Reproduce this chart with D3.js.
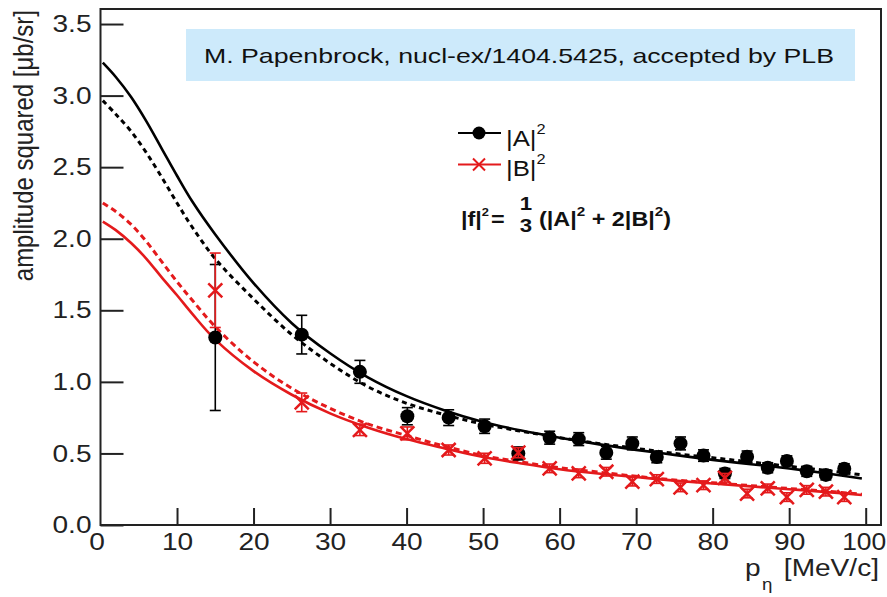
<!DOCTYPE html>
<html><head><meta charset="utf-8">
<script src="https://cdn.jsdelivr.net/npm/d3@7"></script>
<style>
body{margin:0;background:#fff;}
text{font-family:"Liberation Sans",Arial,sans-serif;}
</style></head>
<body><svg id="c" width="887" height="597"></svg>
<script>
// ---- data ----
const pEta   = [15.0, 26.3, 33.9, 40.1, 45.5, 50.2, 54.6, 58.7, 62.5, 66.1, 69.5, 72.7, 75.8, 78.8, 81.6, 84.5, 87.2, 89.7, 92.3, 94.8, 97.2];
const ampA   = [1.31, 1.33, 1.07, 0.76, 0.75, 0.69, 0.50, 0.61, 0.60, 0.505, 0.57, 0.475, 0.57, 0.485, 0.36, 0.477, 0.40, 0.448, 0.375, 0.35, 0.393];
const errA   = [0.51, 0.135, 0.08, 0.06, 0.055, 0.05, 0.045, 0.045, 0.045, 0.045, 0.045, 0.04, 0.045, 0.04, 0.035, 0.04, 0.035, 0.035, 0.035, 0.035, 0.035];
const ampB   = [1.64, 0.857, 0.665, 0.64, 0.524, 0.466, 0.505, 0.396, 0.361, 0.372, 0.303, 0.321, 0.263, 0.278, 0.33, 0.22, 0.256, 0.195, 0.245, 0.233, 0.195];
const errB   = [0.26, 0.065, 0.04, 0.045, 0.035, 0.035, 0.035, 0.03, 0.03, 0.03, 0.03, 0.03, 0.03, 0.03, 0.03, 0.03, 0.03, 0.03, 0.03, 0.03, 0.03];

const curveX      = [0.3, 2, 4, 6, 8, 10, 12, 15, 20, 25, 30, 35, 40, 45, 50, 55, 60, 65, 70, 75, 80, 85, 90, 95, 99.5];
const fitA_solid  = [3.23, 3.13, 2.99, 2.82, 2.63, 2.44, 2.26, 2.03, 1.69, 1.41, 1.20, 1.03, 0.90, 0.80, 0.72, 0.66, 0.61, 0.565, 0.525, 0.49, 0.455, 0.425, 0.395, 0.36, 0.325];
const fitA_dashed = [2.965, 2.87, 2.75, 2.60, 2.43, 2.25, 2.08, 1.86, 1.58, 1.33, 1.13, 0.965, 0.85, 0.77, 0.705, 0.655, 0.61, 0.57, 0.535, 0.50, 0.47, 0.44, 0.41, 0.38, 0.35];
const fitB_solid  = [2.12, 2.06, 1.97, 1.86, 1.73, 1.605, 1.475, 1.295, 1.075, 0.91, 0.78, 0.68, 0.60, 0.535, 0.475, 0.43, 0.39, 0.36, 0.335, 0.31, 0.29, 0.27, 0.25, 0.23, 0.21];
const fitB_dashed = [2.25, 2.19, 2.10, 1.98, 1.84, 1.70, 1.57, 1.385, 1.14, 0.955, 0.815, 0.705, 0.625, 0.55, 0.485, 0.44, 0.40, 0.37, 0.34, 0.315, 0.295, 0.275, 0.255, 0.235, 0.215];

const xTicks = [0, 10, 20, 30, 40, 50, 60, 70, 80, 90, 100];
const yTicks = [0, 0.5, 1.0, 1.5, 2.0, 2.5, 3.0, 3.5];

const RED = "#e41a1c", AXC = "#222", SX = 1.17;

// ---- layout ----
const svg = d3.select("#c");
const L = 100.5, R = 881, T = 9, B = 525;
const x = d3.scaleLinear().domain([0, 102]).range([L, R]);
const y = d3.scaleLinear().domain([0, 3.605]).range([B, T]);

// horizontal stretch of text about its x anchor (the reference font is wide)
function stretch(sel, s){
  sel.each(function(){
    const t = d3.select(this);
    const ax = +(t.attr("x") || 0);
    const prev = t.attr("transform") || "";
    t.attr("transform", `${prev} translate(${ax},0) scale(${s},1) translate(${-ax},0)`);
  });
}

// info box
svg.append("rect").attr("x",186).attr("y",29).attr("width",669).attr("height",52).attr("fill","#cdeafb");
svg.append("text").attr("x",204).attr("y",63).attr("font-size",21).attr("fill","#111")
  .attr("textLength",630).attr("lengthAdjust","spacingAndGlyphs")
  .text("M. Papenbrock, nucl-ex/1404.5425, accepted by PLB");

// frame
svg.append("rect").attr("x",L).attr("y",T).attr("width",R-L).attr("height",B-T)
  .attr("fill","none").attr("stroke",AXC).attr("stroke-width",2);

// axes
const yAx = svg.append("g").attr("transform",`translate(${L},0)`)
  .call(d3.axisLeft(y).tickValues(yTicks).tickFormat(d3.format(".1f")).tickSizeInner(-23).tickSizeOuter(0).tickPadding(9));
const xAx = svg.append("g").attr("transform",`translate(0,${B})`)
  .call(d3.axisBottom(x).tickValues(xTicks).tickFormat(d3.format("d")).tickSizeInner(-17).tickSizeOuter(0).tickPadding(8));
[yAx,xAx].forEach(g=>{
  g.select(".domain").remove();
  g.selectAll("line").attr("stroke",AXC).attr("stroke-width",2);
  g.selectAll("text").attr("font-size",24).attr("fill","#222").attr("font-family","Liberation Sans, Arial, sans-serif");
});
xAx.selectAll(".tick").filter(d=>d===0).select("line").remove();
xAx.selectAll(".tick").filter(d=>d===0).select("text").attr("x",-4);
xAx.selectAll(".tick").filter(d=>d===100).select("text").attr("x",-2);
stretch(yAx.selectAll("text"), SX);
stretch(xAx.selectAll(".tick").filter(d=>d!==100).select("text"), SX);
stretch(xAx.selectAll(".tick").filter(d=>d===100).select("text"), 1.1);

// axis titles
svg.append("text").attr("transform",`translate(33,10) rotate(-90) scale(1,${SX})`).attr("text-anchor","end")
  .attr("font-size",24).attr("fill","#222").text("amplitude squared [μb/sr]");
const xtp = svg.append("text").attr("x",745).attr("y",576).attr("font-size",24).attr("fill","#222").text("p");
const xte = svg.append("text").attr("x",762).attr("y",590).attr("font-size",16).attr("fill","#222").text("η");
const xtu = svg.append("text").attr("x",879).attr("y",576).attr("text-anchor","end").attr("font-size",24).attr("fill","#222").text("[MeV/c]");
stretch(xtp, SX); stretch(xte, SX);
xtu.attr("transform",`translate(879,0) scale(${SX},1) translate(-879,0)`);

// curves
const line = d3.line().x(d=>x(d[0])).y(d=>y(d[1])).curve(d3.curveCatmullRom.alpha(0.5));
const curves = [
  {v:fitA_dashed, c:"#000", dash:"5,4", w:3},
  {v:fitA_solid,  c:"#000", dash:null,  w:2.6},
  {v:fitB_dashed, c:RED,    dash:"6,4", w:3},
  {v:fitB_solid,  c:RED,    dash:null,  w:2.6}
];
curves.forEach(cv=>{
  svg.append("path").datum(curveX.map((xx,i)=>[xx,cv.v[i]]))
    .attr("d",line).attr("fill","none").attr("stroke",cv.c).attr("stroke-width",cv.w)
    .attr("stroke-dasharray",cv.dash);
});

// error bars helper
function errBars(xs, ys, es, color, w){
  const g = svg.append("g").attr("stroke",color).attr("stroke-width",w);
  xs.forEach((xx,i)=>{
    const px = x(xx), y1 = y(ys[i]-es[i]), y2 = y(ys[i]+es[i]);
    g.append("line").attr("x1",px).attr("x2",px).attr("y1",y1).attr("y2",y2);
    g.append("line").attr("x1",px-5.5).attr("x2",px+5.5).attr("y1",y1).attr("y2",y1);
    g.append("line").attr("x1",px-5.5).attr("x2",px+5.5).attr("y1",y2).attr("y2",y2);
  });
}

// |A|^2 points
errBars(pEta, ampA, errA, "#000", 1.6);
svg.append("g").selectAll("circle").data(pEta).join("circle")
  .attr("cx",d=>x(d)).attr("cy",(d,i)=>y(ampA[i])).attr("r",7).attr("fill","#000");

// |B|^2 points
errBars(pEta, ampB, errB, RED, 1.6);
const xs = 7;
svg.append("g").selectAll("path").data(pEta).join("path")
  .attr("d",(d,i)=>{const px=x(d), py=y(ampB[i]);
     return `M${px-xs},${py-xs}L${px+xs},${py+xs}M${px-xs},${py+xs}L${px+xs},${py-xs}`;})
  .attr("stroke",RED).attr("stroke-width",2.5).attr("fill","none");

// legend
const lg = svg.append("g");
lg.append("line").attr("x1",458).attr("x2",501).attr("y1",133).attr("y2",133).attr("stroke","#000").attr("stroke-width",1.8);
lg.append("circle").attr("cx",479).attr("cy",133).attr("r",6.5).attr("fill","#000");
lg.append("line").attr("x1",458).attr("x2",501).attr("y1",164.5).attr("y2",164.5).attr("stroke",RED).attr("stroke-width",1.8);
lg.append("path").attr("d","M473,158.5L485,170.5M473,170.5L485,158.5").attr("stroke",RED).attr("stroke-width",2);
function supLabel(xx, yy, base){
  const t = lg.append("text").attr("x",xx).attr("y",yy).attr("font-size",22).attr("fill","#111");
  t.append("tspan").text(base);
  t.append("tspan").attr("font-size",14).attr("dy",-12).text("2");
  stretch(t, SX);
}
supLabel(506,146,"|A|");
supLabel(506,176,"|B|");

// formula
const fg = svg.append("g").attr("font-weight","bold").attr("fill","#111");
const f1 = fg.append("text").attr("x",461).attr("y",226).attr("font-size",20);
f1.append("tspan").text("|f|");
f1.append("tspan").attr("font-size",11).attr("dy",-10).text("2");
stretch(f1, SX);
const feq = fg.append("text").attr("x",491).attr("y",226).attr("font-size",20).text("=");
stretch(feq, SX);
const fn = fg.append("text").attr("x",526).attr("y",210.5).attr("font-size",19).attr("text-anchor","middle").text("1");
const fd = fg.append("text").attr("x",526).attr("y",232.5).attr("font-size",19).attr("text-anchor","middle").text("3");
stretch(fn, SX); stretch(fd, SX);
const f2 = fg.append("text").attr("x",539).attr("y",226).attr("font-size",20);
f2.append("tspan").text("(|A|");
f2.append("tspan").attr("font-size",13).attr("dy",-10).text("2");
f2.append("tspan").attr("dy",10).text(" + 2|B|");
f2.append("tspan").attr("font-size",13).attr("dy",-10).text("2");
f2.append("tspan").attr("dy",10).text(")");
stretch(f2, SX);
</script></body></html>
